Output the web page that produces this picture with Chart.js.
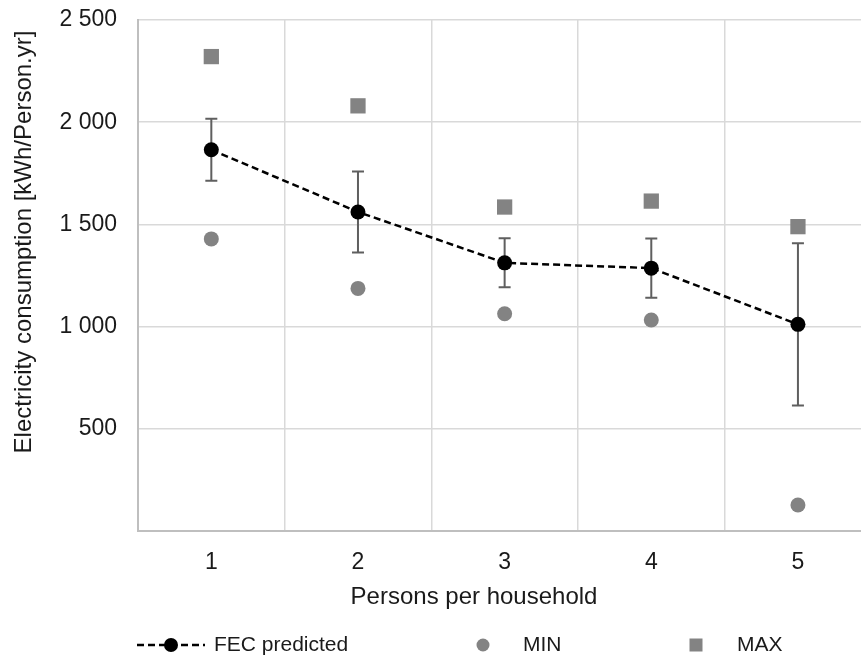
<!DOCTYPE html>
<html>
<head>
<meta charset="utf-8">
<script src="https://cdn.jsdelivr.net/npm/chart.js@4.4.1/dist/chart.umd.min.js"></script>
<style>
  html, body { margin: 0; padding: 0; background: #fff; overflow: hidden; }
  #c { display: block; }
</style>
</head>
<body>
<canvas id="c" width="861" height="660"></canvas>
<script>
// Household size categories
const persons = [1, 2, 3, 4, 5];
// Predicted final electricity consumption per person [kWh/Person.yr]
const fecPredicted = [1865, 1561, 1312, 1286, 1011];
// Error bar half-width around the prediction
const fecError = [152, 198, 120, 145, 397];
// Observed minimum and maximum
const minValues = [1429, 1187, 1063, 1032, 127];
const maxValues = [2321, 2080, 1585, 1614, 1489];
// Y axis tick values
const yTicks = [0, 500, 1000, 1500, 2000, 2500];
// Axis titles
const xTitle = 'Persons per household';
const yTitle = 'Electricity consumption [kWh/Person.yr]';

const FONT = "'Liberation Sans', Arial, sans-serif";
const TEXT = '#1a1a1a';
const GREY = '#838383';
const GRID = '#d9d9d9';

function spaced(v) {
  return String(v).replace(/\B(?=(\d{3})+(?!\d))/g, ' ');
}
function points(values) {
  return persons.map((p, i) => ({ x: p, y: values[i] }));
}

// Vertical error bars drawn under the prediction line
const errorBars = {
  id: 'errorBars',
  beforeDatasetsDraw(chart) {
    const meta = chart.getDatasetMeta(0);
    const y = chart.scales.y;
    const ctx = chart.ctx;
    ctx.save();
    ctx.strokeStyle = '#5f5f5f';
    ctx.lineWidth = 2;
    meta.data.forEach((pt, i) => {
      const top = y.getPixelForValue(fecPredicted[i] + fecError[i]);
      const bot = y.getPixelForValue(fecPredicted[i] - fecError[i]);
      const x = pt.x;
      ctx.beginPath();
      ctx.moveTo(x, top); ctx.lineTo(x, bot);
      ctx.moveTo(x - 6, top); ctx.lineTo(x + 6, top);
      ctx.moveTo(x - 6, bot); ctx.lineTo(x + 6, bot);
      ctx.stroke();
    });
    ctx.restore();
  }
};

// Axis titles
const axisTitles = {
  id: 'axisTitles',
  afterDraw(chart) {
    const ctx = chart.ctx;
    ctx.save();
    ctx.font = '24px ' + FONT;
    ctx.fillStyle = TEXT;
    ctx.textAlign = 'center';
    ctx.textBaseline = 'middle';
    ctx.fillText(xTitle, 474, 597);
    ctx.translate(24, 242);
    ctx.rotate(-Math.PI / 2);
    ctx.fillText(yTitle, 0, 0);
    ctx.restore();
  }
};

// Legend row along the bottom edge
const bottomLegend = {
  id: 'bottomLegend',
  afterDraw(chart) {
    const ctx = chart.ctx;
    const ds = chart.data.datasets;
    const yc = 645;
    ctx.save();
    ctx.font = '21px ' + FONT;
    ctx.fillStyle = TEXT;
    ctx.textBaseline = 'middle';
    // line sample with marker
    ctx.strokeStyle = ds[0].borderColor;
    ctx.lineWidth = 2.5;
    ctx.setLineDash(ds[0].borderDash);
    ctx.beginPath(); ctx.moveTo(137, yc); ctx.lineTo(205, yc); ctx.stroke();
    ctx.setLineDash([]);
    ctx.fillStyle = ds[0].pointBackgroundColor;
    ctx.beginPath(); ctx.arc(171, yc, 7, 0, Math.PI * 2); ctx.fill();
    ctx.fillStyle = TEXT;
    ctx.fillText(ds[0].label, 214, yc);
    // circle marker
    ctx.fillStyle = ds[1].pointBackgroundColor;
    ctx.beginPath(); ctx.arc(483, yc, 6.5, 0, Math.PI * 2); ctx.fill();
    ctx.fillStyle = TEXT;
    ctx.fillText(ds[1].label, 523, yc);
    // square marker
    ctx.fillStyle = ds[2].pointBackgroundColor;
    ctx.fillRect(696 - 6.5, yc - 6.5, 13, 13);
    ctx.fillStyle = TEXT;
    ctx.fillText(ds[2].label, 737, yc);
    ctx.restore();
  }
};

new Chart(document.getElementById('c'), {
  type: 'line',
  data: {
    datasets: [
      {
        label: 'FEC predicted',
        data: points(fecPredicted),
        borderColor: '#000',
        borderWidth: 2.5,
        borderDash: [7, 4],
        pointRadius: 7.5,
        pointHoverRadius: 7.5,
        pointBackgroundColor: '#000',
        pointBorderWidth: 0,
        tension: 0,
        order: 0
      },
      {
        label: 'MIN',
        data: points(minValues),
        showLine: false,
        pointStyle: 'circle',
        pointRadius: 7.5,
        pointHoverRadius: 7.5,
        pointBackgroundColor: GREY,
        pointBorderWidth: 0,
        borderColor: GREY,
        order: 1
      },
      {
        label: 'MAX',
        data: points(maxValues),
        showLine: false,
        pointStyle: 'rect',
        pointRadius: 10.8,
        pointHoverRadius: 10.8,
        pointBackgroundColor: GREY,
        pointBorderWidth: 0,
        borderColor: GREY,
        order: 2
      }
    ]
  },
  options: {
    responsive: false,
    animation: false,
    events: [],
    layout: { autoPadding: false, padding: { left: 0, right: 0, top: 20, bottom: 0 } },
    plugins: {
      legend: { display: false },
      tooltip: { enabled: false }
    },
    scales: {
      x: {
        type: 'linear',
        // category slots are one unit wide; the plot is cut off partway into the last one
        min: 0.5,
        max: 5.43,
        afterBuildTicks(s) {
          const t = [];
          persons.forEach(p => { t.push({ value: p }); if (p < persons.length) t.push({ value: p + 0.5 }); });
          s.ticks = t;
        },
        grid: {
          color: c => (c.tick && c.tick.value % 1 !== 0 ? GRID : 'rgba(0,0,0,0)'),
          lineWidth: 1.5,
          drawTicks: false
        },
        border: { color: '#bfbfbf', width: 2 },
        ticks: {
          color: TEXT, font: { family: FONT, size: 23 }, padding: 18,
          autoSkip: false, maxRotation: 0,
          callback: v => (v % 1 === 0 ? String(v) : '')
        },
        afterFit(s) {
          s.height = 129;
          s.paddingLeft = 0; s.paddingRight = 0;
        }
      },
      y: {
        min: 0, max: 2500,
        afterBuildTicks(s) { s.ticks = yTicks.map(v => ({ value: v })); },
        grid: { color: GRID, lineWidth: 1.5, drawTicks: false },
        border: { color: '#bfbfbf', width: 2 },
        ticks: {
          color: TEXT, font: { family: FONT, size: 23 }, padding: 21,
          callback: v => (v === 0 ? '' : spaced(v))
        },
        afterFit(s) {
          s.width = 138;
          s.paddingTop = 0; s.paddingBottom = 0;
        }
      }
    }
  },
  plugins: [errorBars, axisTitles, bottomLegend]
});
</script>
</body>
</html>
